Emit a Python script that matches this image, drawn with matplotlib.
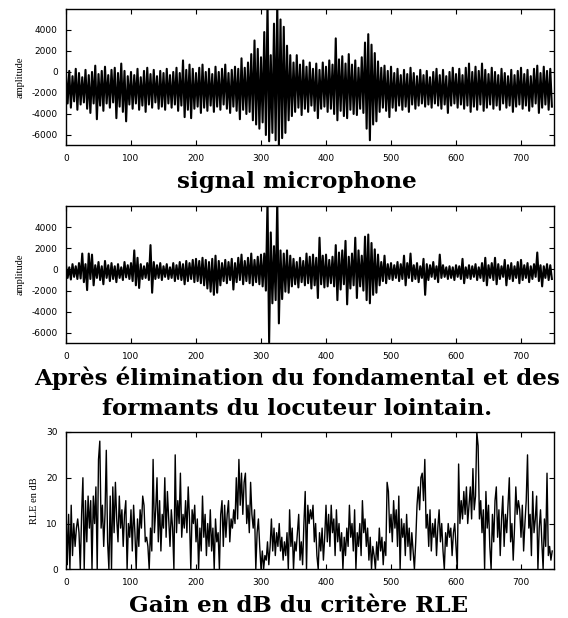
import numpy as np
import matplotlib.pyplot as plt

plt.rcParams['axes.unicode_minus'] = False

# envelope of the microphone signal, one (max, min) pair every 5 samples
MIC_STEP = 5
mic_hi = [
    -200, 100, -400, 300, -100, -500, 200, -300, 0, 600,
    -200, 100, 500, -300, 200, 400, -100, 800, 100, -400,
    0, -300, 300, -500, 100, 400, -200, 200, -400, 100,
    -100, 300, -300, 0, 400, -100, 1100, 200, 700, 300,
    -100, 400, 700, 0, 300, -200, 500, 0, 300, 700,
    -100, 200, 500, 300, 1300, 400, 900, 1700, 3000, 2200,
    1400, 3800, 6500, 1600, 4600, 6500, 5000, 4300, 2500, 1600,
    900, 1600, 700, 1100, 500, 900, 300, 800, 200, 900,
    500, 1100, 700, 3200, 1200, 1500, 800, 1700, 700, 1100,
    400, 1400, 2800, 3600, 2600, 1800, 1000, 400, 600, 100,
    500, -100, 300, -300, 200, -200, 400, -100, -400, 200,
    -300, 100, -500, 0, 300, -300, 200, -400, 0, 400,
    -200, 300, -300, 400, 800, 0, 500, 100, 800, 200,
    -200, 400, 0, -300, 300, -100, -400, 200, -300, 100,
    400, -200, 200, -400, 300, 600, -100, 500, 100, 300,
]
mic_lo = [
    -3000, -3400, -2800, -3600, -3100, -2900, -3500, -3900, -3000, -4500,
    -3200, -3700, -3000, -3400, -2900, -4400, -3300, -3800, -4700, -3100,
    -3500, -3000, -3600, -3200, -3800, -3100, -3400, -2900, -3500, -3300,
    -3600, -3000, -3400, -3100, -3700, -3200, -4300, -3600, -4400, -3500,
    -3300, -3900, -3400, -3700, -3200, -3800, -3300, -3600, -3100, -3500,
    -3900, -3300, -3700, -4500, -3600, -4000, -3800, -4600, -5000, -5400,
    -4800, -6000, -6600, -5800, -6500, -7000, -6300, -5800, -4600, -4200,
    -3800, -3400, -4100, -3500, -3800, -3200, -3700, -4400, -3500, -3300,
    -3800, -3500, -4000, -4600, -3700, -4200, -4400, -3600, -4000, -4100,
    -3500, -3900, -5400, -6500, -5000, -4700, -3800, -3400, -3700, -4300,
    -3400, -3700, -3200, -3600, -3300, -3800, -3100, -3500, -3200, -3000,
    -3300, -3100, -3400, -3000, -3200, -3500, -3100, -3900, -3200, -3000,
    -3400, -3100, -3500, -3200, -3800, -3300, -3600, -3100, -3700, -3400,
    -3100, -3500, -3200, -3600, -3000, -3400, -3200, -3800, -3300, -3100,
    -3500, -3200, -3700, -3300, -3000, -3900, -3400, -3100, -3600, -3300,
]

# same envelope after removing the far-end speaker's pitch and formants
filt_hi = [
    400, 200, 500, 300, 600, 1500, 500, 1500, 1400, 400,
    700, 300, 800, 400, 600, 300, 500, 200, 700, 400,
    600, 1800, 1100, 500, 300, 600, 2300, 700, 400, 600,
    300, 500, 200, 600, 400, 700, 500, 800, 600, 900,
    1000, 800, 1100, 900, 700, 1000, 1300, 800, 600, 900,
    700, 1000, 600, 1100, 1400, 800, 1100, 1500, 900, 1200,
    1400, 1500, 6500, 3500, 2200, 6500, 1800, 1500, 1800, 1300,
    1000, 700, 1100, 800, 1500, 1200, 1400, 1100, 3000, 1300,
    1400, 900, 1200, 2300, 1600, 1800, 2700, 1200, 1500, 3000,
    1800, 1300, 3100, 3300, 2500, 1900, 1400, 700, 1300, 500,
    600, 400, 700, 500, 1300, 600, 1500, 400, 600, 300,
    1000, 500, 400, 700, 300, 1400, 400, 200, 300, 200,
    400, 300, 1000, 200, 400, 300, 500, 200, 600, 1100,
    400, 600, 1100, 500, 300, 900, 400, 600, 300, 700,
    900, 400, 600, 300, 500, 1600, 400, 300, 500, 400,
]
filt_lo = [
    -800, -950, -700, -900, -850, -1200, -1950, -900, -1500, -800,
    -1000, -1400, -800, -1100, -900, -1200, -800, -1000, -750, -900,
    -1100, -1500, -1750, -900, -800, -1000, -2200, -900, -800, -1000,
    -700, -900, -800, -1100, -900, -1000, -1400, -1100, -900, -1200,
    -1100, -1300, -1500, -1800, -2100, -2400, -2200, -1500, -1100, -1300,
    -1000, -1900, -1200, -1000, -1400, -1100, -1300, -1500, -1200, -1400,
    -1600, -2000, -6900, -3200, -2900, -5100, -2800, -2100, -2200, -1600,
    -1400, -1700, -1200, -1500, -1300, -1800, -1500, -2700, -1400, -1700,
    -1600, -1300, -1600, -2900, -1900, -1400, -3300, -1800, -1500, -2700,
    -1600, -2000, -2900, -3200, -2400, -2200, -1500, -1100, -1300, -900,
    -1000, -800, -1100, -900, -1500, -800, -1100, -900, -1200, -800,
    -2400, -1000, -700, -900, -1200, -800, -700, -900, -800, -1000,
    -700, -900, -1300, -800, -900, -700, -1000, -800, -1100, -1500,
    -800, -1000, -1400, -900, -700, -1500, -900, -1100, -800, -1300,
    -1000, -800, -1200, -900, -700, -1100, -1600, -800, -1000, -900,
]

# RLE gain in dB, one value every 2 samples
RLE_STEP = 2
rle_db = [
    14, 1, 12, 0, 14, 3, 10, 5, 9, 11,
    8, 0, 12, 20, 0, 15, 6, 16, 9, 15,
    0, 16, 10, 18, 0, 24, 28, 9, 14, 5,
    12, 26, 6, 0, 16, 0, 18, 8, 19, 11,
    6, 16, 9, 13, 5, 12, 15, 0, 10, 7,
    13, 4, 14, 8, 0, 11, 5, 13, 9, 16,
    14, 6, 7, 5, 0, 9, 4, 24, 8, 13,
    20, 6, 15, 4, 12, 9, 20, 7, 17, 11,
    5, 13, 9, 0, 25, 8, 15, 10, 21, 7,
    12, 9, 15, 8, 18, 11, 0, 13, 10, 14,
    6, 11, 0, 9, 4, 16, 7, 12, 3, 10,
    5, 13, 4, 9, 0, 11, 6, 8, 0, 12,
    15, 5, 14, 7, 12, 15, 6, 11, 9, 13,
    10, 20, 11, 24, 14, 21, 12, 19, 21, 10,
    14, 8, 19, 12, 9, 13, 0, 8, 11, 5,
    0, 4, 0, 3, 2, 6, 1, 5, 11, 4,
    9, 3, 8, 5, 10, 4, 7, 2, 6, 3,
    8, 0, 13, 5, 9, 0, 6, 4, 8, 12,
    2, 6, 1, 10, 17, 0, 14, 10, 13, 11,
    14, 6, 10, 3, 0, 8, 4, 9, 2, 7,
    14, 6, 12, 5, 14, 8, 11, 3, 13, 6,
    10, 4, 8, 0, 7, 3, 9, 5, 14, 7,
    10, 4, 13, 0, 8, 5, 10, 3, 15, 8,
    11, 5, 9, 2, 7, 0, 5, 3, 0, 6,
    2, 9, 4, 7, 1, 6, 3, 19, 17, 8,
    12, 6, 15, 9, 13, 5, 16, 0, 11, 7,
    10, 3, 12, 5, 9, 2, 8, 4, 0, 6,
    14, 18, 13, 20, 21, 15, 24, 9, 12, 5,
    13, 4, 10, 7, 11, 3, 9, 13, 6, 10,
    4, 0, 8, 5, 10, 7, 9, 3, 8, 10,
    5, 0, 23, 10, 15, 11, 17, 12, 18, 10,
    14, 18, 11, 22, 13, 16, 30, 27, 11, 15,
    8, 13, 0, 17, 9, 14, 5, 0, 12, 6,
    15, 18, 7, 13, 3, 11, 16, 5, 12, 8,
    14, 20, 6, 10, 2, 9, 18, 12, 15, 13,
    7, 14, 4, 10, 15, 25, 9, 12, 3, 17,
    8, 11, 16, 0, 9, 13, 6, 0, 11, 5,
    21, 3, 5, 2, 4,
]

X_TICKS = [0, 100, 200, 300, 400, 500, 600, 700]
AMP_TICKS = [4000, 2000, 0, -2000, -4000, -6000]
RLE_TICKS = [0, 10, 20, 30]


def zigzag(hi, lo, step):
    # alternate max / min so the dense waveform fills in like the original trace
    n = len(hi)
    x = np.empty(2 * n)
    y = np.empty(2 * n)
    x[0::2] = np.arange(n) * step
    x[1::2] = np.arange(n) * step + step / 2
    y[0::2] = hi
    y[1::2] = lo
    return x, y


def style_axes(ax, yticks, ylim, ylabel, label_x):
    ax.set_xlim(0, 750)
    ax.set_ylim(*ylim)
    ax.set_xticks(X_TICKS)
    ax.set_yticks(yticks)
    ax.tick_params(direction='in', length=3.5, width=0.8, top=True, right=True,
                   labelsize=6.5, pad=6, colors='black')
    for s in ax.spines.values():
        s.set_linewidth(1.0)
    ax.set_ylabel(ylabel, fontsize=7.5, family='Liberation Serif')
    ax.yaxis.set_label_coords(label_x, 0.5)


fig = plt.figure(figsize=(5.68, 6.18), dpi=100)

ax1 = fig.add_axes([0.1162, 0.7646, 0.8583, 0.2209])
x, y = zigzag(mic_hi, mic_lo, MIC_STEP)
ax1.plot(x, y, color='black', linewidth=1.5)
style_axes(ax1, AMP_TICKS, (-7000, 6000), 'amplitude', -0.084)

ax2 = fig.add_axes([0.1162, 0.4442, 0.8583, 0.2225])
x, y = zigzag(filt_hi, filt_lo, MIC_STEP)
ax2.plot(x, y, color='black', linewidth=1.5)
style_axes(ax2, AMP_TICKS, (-7000, 6000), 'amplitude', -0.084)

ax3 = fig.add_axes([0.1162, 0.0788, 0.8583, 0.2222])
ax3.plot(np.arange(len(rle_db)) * RLE_STEP, rle_db, color='black', linewidth=1.0)
style_axes(ax3, RLE_TICKS, (0, 30), 'RLE en dB', -0.055)

title_kw = dict(ha='center', va='baseline', fontsize=16.6, fontweight='bold',
                family='DejaVu Serif')
fig.text(0.523, 1 - 188 / 618, 'signal microphone', **title_kw)
fig.text(0.523, 1 - 385 / 618, 'Après élimination du fondamental et des', **title_kw)
fig.text(0.523, 1 - 415 / 618, 'formants du locuteur lointain.', **title_kw)
fig.text(0.526, 1 - 612 / 618, 'Gain en dB du critère RLE', **title_kw)

plt.savefig('out.png', dpi=100)
plt.close()
